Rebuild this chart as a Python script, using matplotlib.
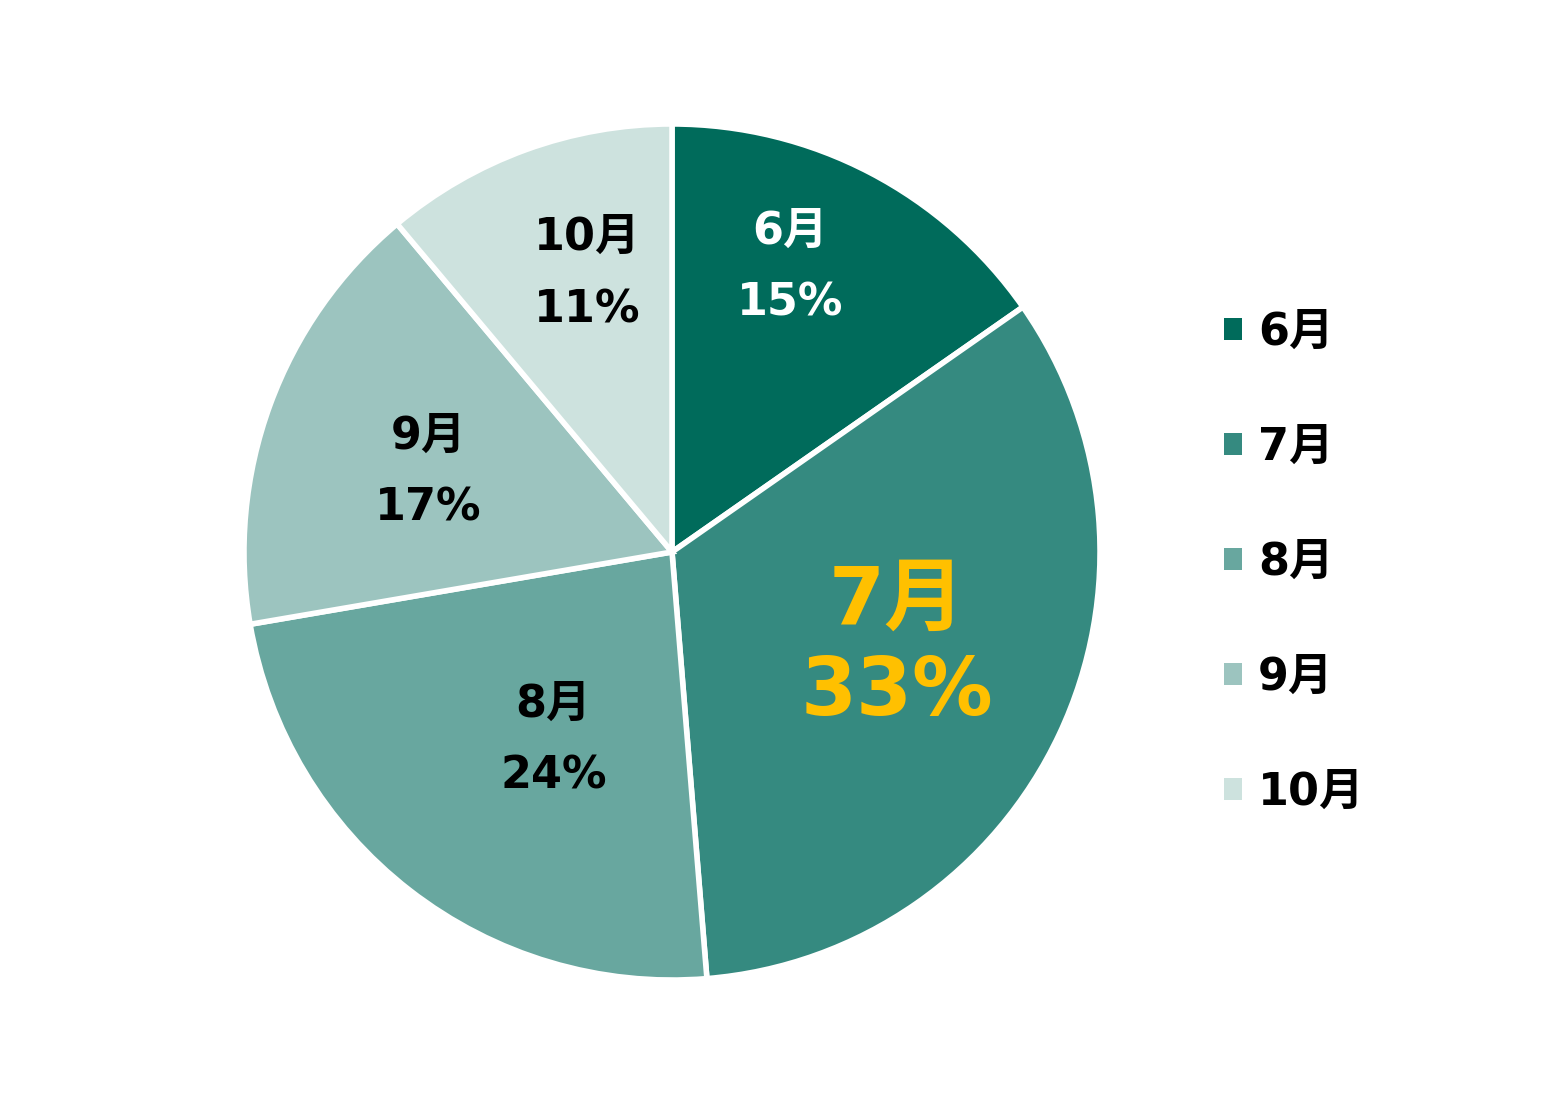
import numpy as np
import matplotlib.pyplot as plt
from matplotlib.patches import Patch

plt.rcParams['font.family'] = ['DejaVu Sans', 'Noto Sans CJK JP']
plt.rcParams['font.weight'] = 'bold'

months = ['6月', '7月', '8月', '9月', '10月']
shares = [15.3, 33.4, 23.6, 16.6, 11.1]
colors = ['#006B5B', '#358A80', '#68A79F', '#9CC4BF', '#CDE2DE']
text_colors = ['white', '#FFC000', 'black', 'black', 'black']
# label placement: radius fraction and angle offset (deg) from wedge middle
label_r = [0.72, 0.57, 0.52, 0.60, 0.68]
label_dang = [5.0, 2.3, 5.6, 2.0, -3.0]
label_size = [32, 58, 32, 32, 32]
label_gap = [1.85, 1.22, 1.85, 1.85, 1.85]

fig = plt.figure(figsize=(15.57, 11.07), dpi=100)
ax = fig.add_axes([0.1567, 0.1147, 0.5498, 0.7733])

wedges, _ = ax.pie(shares, colors=colors, startangle=90, counterclock=False,
                   radius=1.0,
                   wedgeprops=dict(edgecolor='white', linewidth=4))
ax.set_xlim(-1, 1)
ax.set_ylim(-1, 1)

for w, m, s, tc, r, da, fs, ls in zip(wedges, months, shares, text_colors,
                                       label_r, label_dang, label_size, label_gap):
    ang = np.deg2rad((w.theta1 + w.theta2) / 2 + da)
    ax.text(r * np.cos(ang), r * np.sin(ang), f'{m}\n{round(s):d}%', color=tc,
            fontsize=fs, fontweight='bold', ha='center', va='center',
            linespacing=ls)

handles = [Patch(facecolor=c, edgecolor='none') for c in colors]
fig.legend(handles, months, loc='upper left', bbox_to_anchor=(0.775, 0.735),
           frameon=False, fontsize=32, handlelength=0.4, handleheight=0.4,
           handletextpad=0.36, labelspacing=1.62, borderaxespad=0)

fig.savefig('out.png', dpi=100)
